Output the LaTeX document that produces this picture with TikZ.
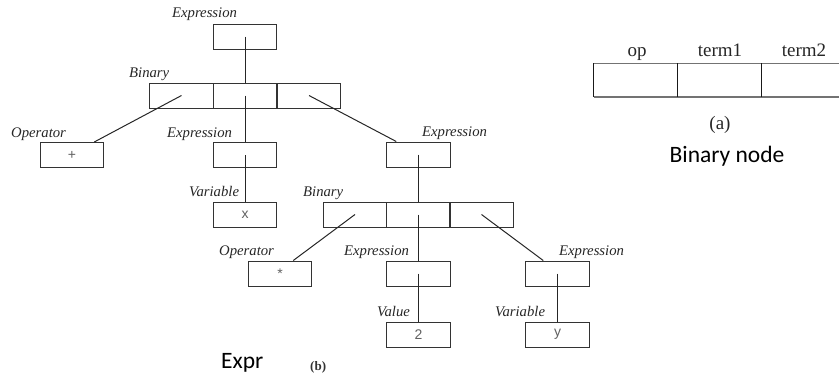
\documentclass[tikz,border=0pt]{standalone}
\usepackage{fontspec}
\setmainfont{Liberation Serif}
\setsansfont{Liberation Sans}
\newfontfamily\captionfont{Carlito}
\begin{document}
\begin{tikzpicture}[x=1pt,y=-1pt,
  wire/.style={draw=black!85,line width=1pt},
  cell/.style={draw=black!80,line width=1pt,rectangle,inner sep=0pt,
    minimum width=63.5pt,minimum height=25pt,
    font=\sffamily\fontsize{14}{15}\selectfont,text=black!62},
  role/.style={anchor=base west,inner sep=0pt,
    font=\itshape\fontsize{14.7}{16}\selectfont,text=black!85},
  field/.style={anchor=base,inner sep=0pt,font=\fontsize{19}{21}\selectfont,text=black!85},
  tabh/.style={draw=black!55,line width=1.6pt},
  tabv/.style={draw=black!90,line width=0.8pt},
  caption/.style={anchor=base,inner sep=0pt,font=\captionfont\fontsize{23.5}{26}\selectfont}]
\useasboundingbox (0,0) rectangle (839,375);

% ---- expression tree (b)
\node[cell] (e0) at (245,36.5) {};
\node[cell] (b1l) at (181.5,95.5) {};
\node[cell] (b1m) at (245,95.5) {};
\node[cell] (b1r) at (309,95.5) {};
\node[cell] (opPlus) at (72,155) {+};
\node[cell] (e1) at (245,155) {};
\node[cell] (e2) at (418.5,154.5) {};
\node[cell] (varX) at (245,214.5) {x};
\node[cell] (b2l) at (355,214.5) {};
\node[cell] (b2m) at (418.5,214.5) {};
\node[cell] (b2r) at (481.5,214.5) {};
\node[cell] (opStar) at (280,273.5) {*};
\node[cell] (e3) at (418.5,273.5) {};
\node[cell] (e4) at (557.5,273.5) {};
\node[cell] (val2) at (418.5,334.5) {2};
\node[cell] (varY) at (557.5,334.5) {y};

\node[role] (le0) at (172,17.5) {Expression};
\node[role] (lb1) at (129,77) {Binary};
\node[role] (lop1) at (11,137) {Operator};
\node[role] (le1) at (167,137) {Expression};
\node[role] (le2) at (422,136) {Expression};
\node[role] (lvx) at (189,196) {Variable};
\node[role] (lb2) at (303,196) {Binary};
\node[role] (lop2) at (219,255) {Operator};
\node[role] (le3) at (344,255) {Expression};
\node[role] (le4) at (559,255) {Expression};
\node[role] (lval) at (377,316) {Value};
\node[role] (lvy) at (495,316) {Variable};

\draw[wire] (e0.center) -- (b1m.north);
\draw[wire] (b1l.center) -- ([xshift=-10pt]opPlus.north east);
\draw[wire] (b1m.center) -- (e1.north);
\draw[wire] (b1r.center) -- ([xshift=10pt]e2.north west);
\draw[wire] (e1.center) -- (varX.north);
\draw[wire] (e2.center) -- (b2m.north);
\draw[wire] (b2l.center) -- ([xshift=-19pt]opStar.north east);
\draw[wire] (b2m.center) -- (e3.north);
\draw[wire] (b2r.center) -- ([xshift=18pt]e4.north west);
\draw[wire] (e3.center) -- (val2.north);
\draw[wire] (e4.center) -- (varY.north);

\node[caption,anchor=base west] (cb) at (221,368) {Expr};
\node[anchor=base west,inner sep=0pt,font=\bfseries\fontsize{13}{15}\selectfont,text=black!80] (lbb) at (310,370) {(b)};

% ---- binary node layout (a)
\node[inner sep=0pt,minimum width=84pt,minimum height=33pt] (ta1) at (636,80) {};
\node[inner sep=0pt,minimum width=84pt,minimum height=33pt] (ta2) at (720,80) {};
\node[inner sep=0pt,minimum width=84pt,minimum height=33pt] (ta3) at (804,80) {};
\draw[tabh] (ta1.north west) -- (ta3.north east);
\draw[tabh] (ta1.south west) -- (ta3.south east);
\draw[tabv] (ta1.north west) -- (ta1.south west);
\draw[tabv] (ta2.north west) -- (ta2.south west);
\draw[tabv] (ta3.north west) -- (ta3.south west);
\node[field] (fop) at (637,56) {op};
\node[field] (ft1) at (720,56) {term1};
\node[field] (ft2) at (804,56) {term2};
\node[field] (la) at (720,129) {(a)};
\node[caption] (cbn) at (727,162) {Binary node};
\end{tikzpicture}
\end{document}
